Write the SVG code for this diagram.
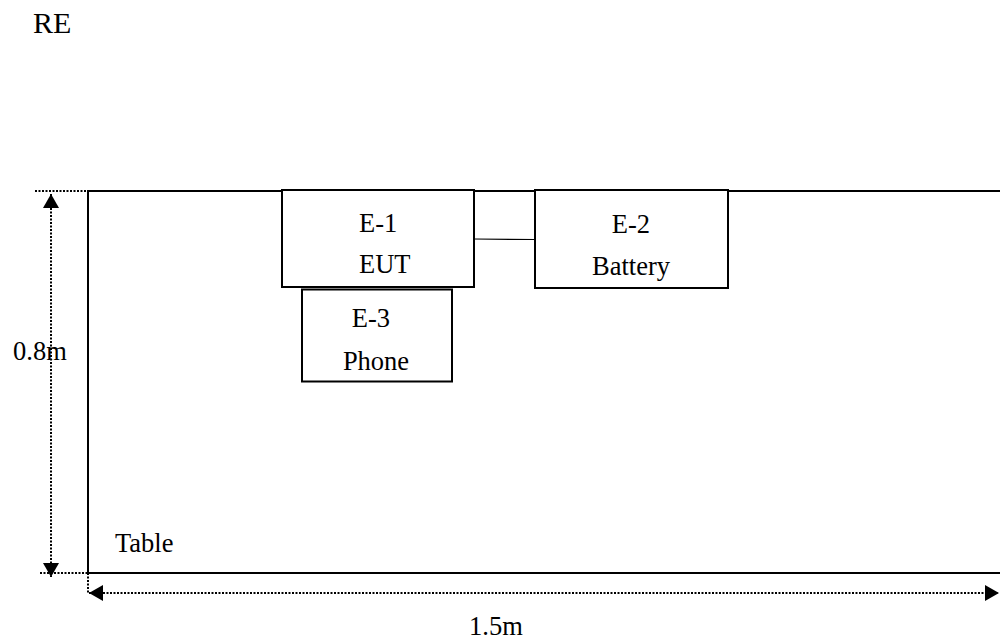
<svg xmlns="http://www.w3.org/2000/svg" width="1000" height="641" viewBox="0 0 1000 641">
  <style>
    .t { font-family: "Liberation Serif", "Times New Roman", serif; font-size: 26.5px; fill: #000; }
    .box { fill: #fff; stroke: #000; stroke-width: 2; }
    .dot { fill: none; stroke: #000; stroke-width: 2; stroke-dasharray: 2 1.5; }
    .wire { fill: none; stroke: #000; stroke-width: 1.2; }
  </style>
  <defs>
    <marker id="ah" viewBox="0 0 14 16" refX="14" refY="8" markerWidth="14" markerHeight="16" markerUnits="userSpaceOnUse" orient="auto-start-reverse">
      <path d="M0,0 L14,8 L0,16 z" fill="#000"/>
    </marker>
  </defs>
  <rect width="1000" height="641" fill="#fff"/>
  <text class="t" x="33" y="33" style="font-size:30px">RE</text>

  <g id="table">
    <rect class="box" x="88" y="191" width="1000" height="382"/>
    <text class="t" x="115" y="552">Table</text>
  </g>

  <g id="connectors">
    <line class="wire" x1="474" y1="239" x2="535" y2="239.5"/>
    <line class="dot" x1="35" y1="191" x2="88" y2="191"/>
    <line class="dot" x1="40" y1="573" x2="110" y2="573"/>
    <line class="dot" x1="88" y1="573" x2="88" y2="593"/>
    <line class="dot" x1="51" y1="194" x2="51" y2="577" marker-start="url(#ah)" marker-end="url(#ah)"/>
    <line class="dot" x1="89" y1="593" x2="999" y2="593" marker-start="url(#ah)" marker-end="url(#ah)"/>
  </g>

  <g id="dim-height">
    <text class="t" x="13" y="360">0.8m</text>
  </g>
  <g id="dim-width">
    <text class="t" x="469" y="635">1.5m</text>
  </g>

  <g id="e1">
    <rect class="box" x="282" y="190" width="192" height="97"/>
    <text class="t" x="359" y="232">E-1</text>
    <text class="t" x="359" y="273">EUT</text>
  </g>
  <g id="e2">
    <rect class="box" x="535" y="190" width="193" height="98"/>
    <text class="t" x="631" y="233" text-anchor="middle">E-2</text>
    <text class="t" x="631" y="275" text-anchor="middle">Battery</text>
  </g>
  <g id="e3">
    <rect class="box" x="302" y="289.5" width="150" height="92"/>
    <text class="t" x="371" y="327" text-anchor="middle">E-3</text>
    <text class="t" x="376" y="370" text-anchor="middle">Phone</text>
  </g>
</svg>
